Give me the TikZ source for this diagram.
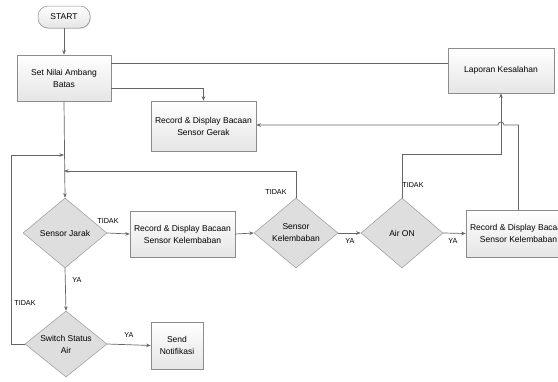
\documentclass[tikz,border=0pt]{standalone}
\usepackage{fontspec}
\setmainfont{Liberation Sans}
\usetikzlibrary{shapes.geometric,arrows.meta,calc,shadows}
\begin{document}
\begin{tikzpicture}[x=1pt,y=-1pt,
  font=\fontsize{8.5}{12}\selectfont,
  line/.style={draw=black!60,line width=0.7pt},
  arr/.style={line,-{Stealth[length=4.5pt,width=3.5pt]}},
  box/.style={draw=black!45,line width=0.5pt,top color=white,bottom color=black!10,
     align=center,inner sep=1pt,
     drop shadow={opacity=0.25,shadow xshift=0.8pt,shadow yshift=-0.8pt}},
  dia/.style={diamond,draw=black!40,line width=0.5pt,fill=black!13,align=center,inner sep=0pt,aspect=1.2},
  term/.style={rounded rectangle,draw=black!50,line width=0.5pt,top color=white,bottom color=black!8},
  lab/.style={font=\fontsize{7.2}{9}\selectfont,inner sep=0pt}
]
\useasboundingbox (0,0) rectangle (558,381);
\clip (0,0) rectangle (558,381);
\fill[white] (0,0) rectangle (558,381);
\tikzset{rounded rectangle/.style={draw,rounded corners=10pt}}
% nodes
\node[box,rounded corners=10pt,minimum width=52pt,minimum height=22pt] (start) at (64,17) {START};
\node[box,minimum width=94pt,minimum height=46pt] (set) at (64,78) {Set Nilai Ambang\\Batas};
\node[box,minimum width=106pt,minimum height=45pt] (lap) at (501,70.5) {Laporan Kesalahan};
\node[box,minimum width=105pt,minimum height=50pt] (gerak) at (203.5,126) {Record \& Display Bacaan\\Sensor Gerak};
\node[dia,minimum width=84pt,minimum height=70pt] (sj) at (65,233) {Sensor Jarak};
\node[box,minimum width=105pt,minimum height=46pt] (rec1) at (182.5,234) {Record \& Display Bacaan\\Sensor Kelembaban};
\node[dia,minimum width=84pt,minimum height=70pt] (sk) at (296,233) {Sensor\\Kelembaban};
\node[dia,minimum width=82pt,minimum height=70pt] (air) at (402,233) {Air ON};
\node[box,minimum width=105pt,minimum height=47pt] (rec2) at (518.5,233.5) {Record \& Display Bacaan\\Sensor Kelembaban};
\node[dia,minimum width=82pt,minimum height=66pt] (sw) at (66,344) {Switch Status\\Air};
\node[box,minimum width=52pt,minimum height=47pt] (send) at (177,345.5) {Send\\Notifikasi};
% helper coordinates
\coordinate (y63) at (0,63);
\coordinate (y88) at (0,88);
\coordinate (j1) at (64,155);
\coordinate (j2) at (64,171);
\coordinate (y154) at (0,154);
\coordinate (y125) at (0,125);
% connectors
\draw[arr] (start) -- (set);
\draw[line] (set.east |- y63) -- (lap.west |- y63);
\draw[arr] (set.east |- y88) -| (gerak.north);
\draw[arr] (set.south) -- (sj.north);
\draw[arr] (sw.west) -- ++(-13,0) |- (j1);
\draw[arr] (sk.north) |- (j2);
\draw[arr] (sj.east) -- (rec1.west);
\draw[arr] (rec1.east) -- (sk.west);
\draw[arr] (sk.east) -- (air.west);
\draw[arr] (air.east) -- (rec2.west);
\draw[arr] (air.north) |- (lap.south |- y154) -- (lap.south);
\draw[arr] (rec2.north) |- ($(lap.south |- y125)+(3,0)$) arc[start angle=0,end angle=-180,radius=3] -- (gerak.east |- y125);
\draw[arr] (sj.south) -- (sw.north);
\draw[arr] (sw.east) -- (send.west);
% labels
\node[lab] (l1) at (108,221) {TIDAK};
\node[lab] (l2) at (77,280) {YA};
\node[lab] (l3) at (276,192) {TIDAK};
\node[lab] (l4) at (350,241) {YA};
\node[lab] (l5) at (413,185) {TIDAK};
\node[lab] (l6) at (453,241) {YA};
\node[lab] (l7) at (25,303) {TIDAK};
\node[lab] (l8) at (129,335) {YA};
\end{tikzpicture}
\end{document}
